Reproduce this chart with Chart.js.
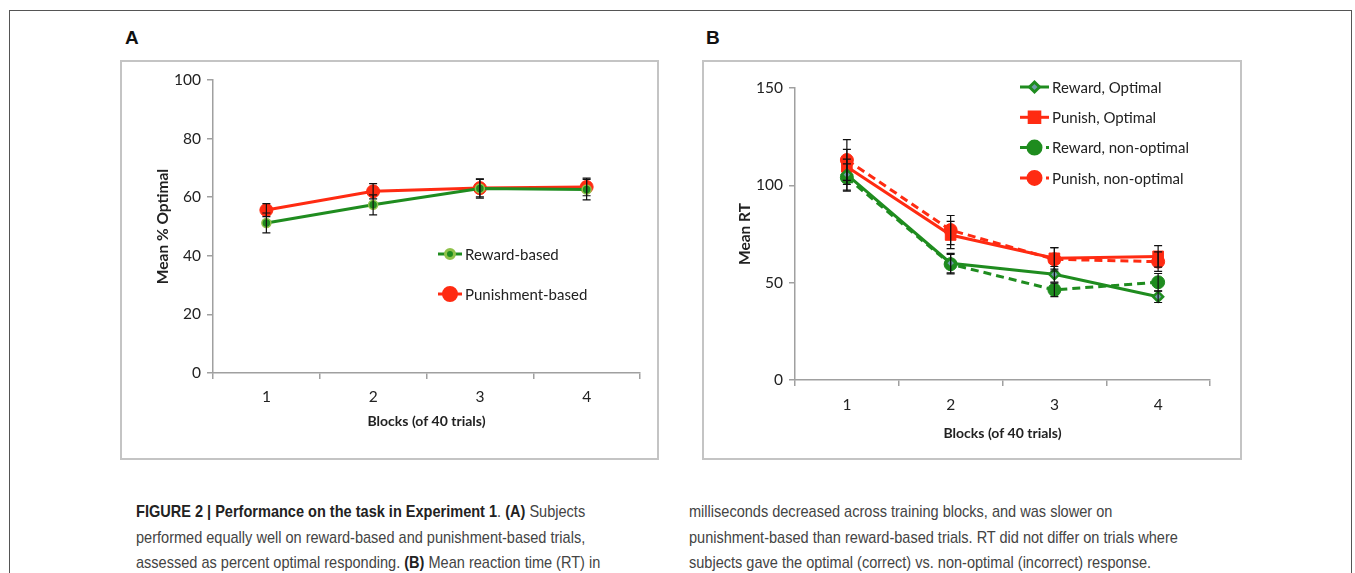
<!DOCTYPE html>
<html>
<head>
<meta charset="utf-8">
<script src="https://cdn.jsdelivr.net/npm/chart.js@4.4.0/dist/chart.umd.min.js"></script>
<style>
  body { margin: 0; background: #fff; width: 1355px; height: 573px; overflow: hidden; position: relative; }
  .frame { position: absolute; left: 9px; top: 10px; width: 1343px; height: 620px; border: 1.5px solid #555; box-sizing: border-box; }
  .panel { position: absolute; top: 60px; height: 400px; border: 2px solid #c4c4c4; box-sizing: border-box; }
  .panel canvas { position: absolute; left: 0; top: 0; }
  .tag { position: absolute; top: 27px; font: bold 19px "Liberation Sans", Arial, sans-serif; color: #111; }
  .cap { position: absolute; top: 499px; font: 17px "Liberation Sans", Arial, sans-serif; color: #444; line-height: 25.5px;
         white-space: nowrap; transform: scaleX(0.855); transform-origin: 0 0; }
  .cap b { color: #222; }
</style>
</head>
<body>
<div class="frame"></div>
<div class="tag" style="left:125px">A</div>
<div class="tag" style="left:706px">B</div>
<div class="panel" style="left:120px; width:539px"><canvas id="chartA" width="535" height="396"></canvas></div>
<div class="panel" style="left:702px; width:540px"><canvas id="chartB" width="536" height="396"></canvas></div>
<div class="cap" style="left:136px">
  <b>FIGURE 2 | Performance on the task in Experiment 1</b>. <b>(A)</b> Subjects<br>
  performed equally well on reward-based and punishment-based trials,<br>
  assessed as percent optimal responding. <b>(B)</b> Mean reaction time (RT) in
</div>
<div class="cap" style="left:689px">
  milliseconds decreased across training blocks, and was slower on<br>
  punishment-based than reward-based trials. RT did not differ on trials where<br>
  subjects gave the optimal (correct) vs. non-optimal (incorrect) response.
</div>
<script>
// ---- data ----
const blocks = ['1', '2', '3', '4'];

// panel A: mean % optimal
const rewardPct = [51.2, 57.4, 63.0, 62.6];
const rewardPctErr = [3.4, 3.4, 3.3, 3.5];
const punishPct = [55.6, 62.0, 63.1, 63.5];
const punishPctErr = [2.2, 2.6, 3.0, 3.0];

// panel B: mean RT
const rewardOptRT = [105.5, 60.0, 54.3, 42.8];
const rewardOptErr = [8, 5, 4, 3];
const punishOptRT = [109.5, 74.5, 62.5, 63.5];
const punishOptErr = [9, 7, 5.5, 5.5];
const rewardNonRT = [104.0, 59.5, 46.3, 50.2];
const rewardNonErr = [7, 5, 3.5, 4.5];
const punishNonRT = [113.0, 77.0, 62.0, 60.8];
const punishNonErr = [10.5, 7.5, 6, 5];

const GREEN = '#1f8c1f';
const RED = '#ff2b12';
const AXIS = '#a0a0a0';
Chart.defaults.font.family = 'Lato, "Open Sans", sans-serif';
Chart.defaults.color = '#222';

// error bars drawn from dataset.errors through the y scale
const errorBars = {
    id: 'errorBars',
    afterDatasetsDraw(chart) {
        const ctx = chart.ctx;
        const y = chart.scales.y;
        ctx.save();
        ctx.strokeStyle = '#111';
        ctx.lineWidth = 1.2;
        chart.data.datasets.forEach((ds, i) => {
            if (!ds.errors) return;
            chart.getDatasetMeta(i).data.forEach((pt, j) => {
                const v = ds.data[j], e = ds.errors[j];
                const top = y.getPixelForValue(v + e), bot = y.getPixelForValue(v - e);
                ctx.beginPath();
                ctx.moveTo(pt.x, top); ctx.lineTo(pt.x, bot);
                ctx.moveTo(pt.x - 4, top); ctx.lineTo(pt.x + 4, top);
                ctx.moveTo(pt.x - 4, bot); ctx.lineTo(pt.x + 4, bot);
                ctx.stroke();
            });
        });
        ctx.restore();
    }
};

// legend drawn inside the plot
const insideLegend = {
    id: 'insideLegend',
    afterDraw(chart, args, opts) {
        const ctx = chart.ctx;
        ctx.save();
        chart.data.datasets.forEach((ds, i) => {
            const yy = opts.y + i * opts.gap;
            ctx.strokeStyle = ds.borderColor;
            ctx.lineWidth = ds.borderWidth;
            ctx.setLineDash(ds.borderDash || []);
            ctx.beginPath();
            ctx.moveTo(opts.x, yy); ctx.lineTo(opts.x + opts.len, yy);
            ctx.stroke();
            ctx.setLineDash([]);
            ctx.fillStyle = ds.pointBackgroundColor || ds.borderColor;
            ctx.strokeStyle = ds.pointBorderColor || ds.borderColor;
            Chart.helpers.drawPoint(ctx, {
                pointStyle: ds.pointStyle || 'circle',
                radius: ds.pointRadius,
                borderWidth: ds.pointBorderWidth || 1,
                rotation: 0
            }, opts.x + opts.len / 2, yy);
            ctx.fillStyle = '#222';
            ctx.font = '15px Lato, "Open Sans", sans-serif';
            ctx.textBaseline = 'middle';
            ctx.fillText(ds.label, opts.x + opts.len + 3, yy + 1);
        });
        ctx.restore();
    }
};

function axes(yMax, step, yTitle, xTitleBottom, xTickPad, xHeight) {
    const grid = { display: true, drawOnChartArea: false, color: AXIS, lineWidth: 1.5, tickLength: 6 };
    return {
        x: {
            offset: true,
            grid: Object.assign({ offset: true }, grid),
            border: { color: AXIS, width: 1.5 },
            ticks: { font: { size: 15.5 }, padding: xTickPad },
            title: { display: true, text: 'Blocks (of 40 trials)', font: { size: 14, weight: 'bold' }, padding: { top: 0, bottom: xTitleBottom } },
            afterFit: s => { s.height = xHeight; }
        },
        y: {
            min: 0, max: yMax,
            grid: grid,
            border: { color: AXIS, width: 1.5 },
            ticks: { stepSize: step, font: { size: 15.5 }, padding: 6 },
            title: { display: true, text: yTitle, font: { size: 15.5, weight: 'bold' }, padding: { top: 32, bottom: 0 } },
            afterFit: s => { s.width = 91; }
        }
    };
}

new Chart(document.getElementById('chartA'), {
    type: 'line',
    data: {
        labels: blocks,
        datasets: [
            { label: 'Reward-based', data: rewardPct, errors: rewardPctErr, borderColor: GREEN, borderWidth: 3,
              pointRadius: 4.5, pointBackgroundColor: GREEN, pointBorderColor: '#8fc24a', pointBorderWidth: 1.5 },
            { label: 'Punishment-based', data: punishPct, errors: punishPctErr, borderColor: RED, borderWidth: 3,
              pointRadius: 6.5, pointBackgroundColor: RED, pointBorderColor: RED, pointBorderWidth: 1 }
        ]
    },
    options: {
        responsive: false,
        animation: false,
        layout: { padding: { left: 0, right: 17, top: 18, bottom: 0 } },
        plugins: {
            legend: { display: false }, tooltip: { enabled: false },
            insideLegend: { x: 316, y: 192, gap: 40, len: 24 }
        },
        scales: axes(100, 20, 'Mean % Optimal', 28, 9, 85)
    },
    plugins: [errorBars, insideLegend]
});

new Chart(document.getElementById('chartB'), {
    type: 'line',
    data: {
        labels: blocks,
        datasets: [
            { label: 'Reward, Optimal', data: rewardOptRT, errors: rewardOptErr, borderColor: GREEN, borderWidth: 3,
              pointStyle: 'rectRot', pointRadius: 5, pointBackgroundColor: '#6f9ca8', pointBorderColor: GREEN, pointBorderWidth: 2.5 },
            { label: 'Punish, Optimal', data: punishOptRT, errors: punishOptErr, borderColor: RED, borderWidth: 3,
              pointStyle: 'rect', pointRadius: 7.5, pointBackgroundColor: RED, pointBorderColor: RED, pointBorderWidth: 1 },
            { label: 'Reward, non-optimal', data: rewardNonRT, errors: rewardNonErr, borderColor: GREEN, borderWidth: 3, borderDash: [8, 5],
              pointRadius: 6.5, pointBackgroundColor: GREEN, pointBorderColor: GREEN, pointBorderWidth: 1 },
            { label: 'Punish, non-optimal', data: punishNonRT, errors: punishNonErr, borderColor: RED, borderWidth: 3, borderDash: [8, 5],
              pointRadius: 6.5, pointBackgroundColor: RED, pointBorderColor: RED, pointBorderWidth: 1 }
        ]
    },
    options: {
        responsive: false,
        animation: false,
        layout: { padding: { left: 0, right: 30, top: 26, bottom: 0 } },
        plugins: {
            legend: { display: false }, tooltip: { enabled: false },
            insideLegend: { x: 316, y: 25, gap: 30.3, len: 29 }
        },
        scales: axes(150, 50, 'Mean RT', 16, 10, 78)
    },
    plugins: [errorBars, insideLegend]
});
</script>
</body>
</html>
